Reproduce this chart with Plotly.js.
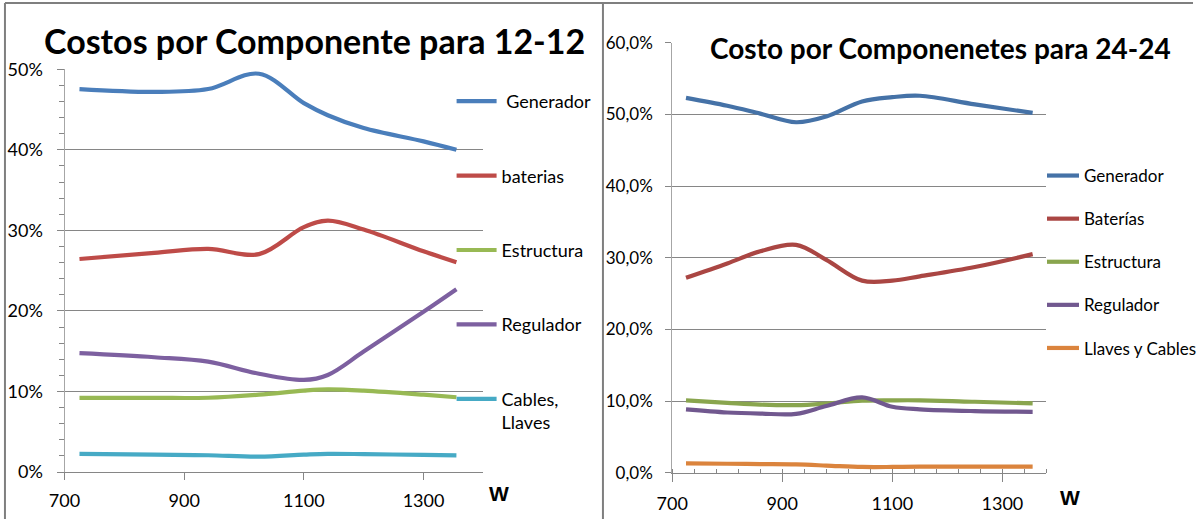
<!DOCTYPE html>
<html>
<head>
<meta charset="utf-8">
<script src="https://cdn.plot.ly/plotly-3.0.1.min.js"></script>
<style>html,body{margin:0;padding:0;background:#fff;}#chart{width:1202px;height:519px;}</style>
</head>
<body>
<div id="chart"></div>
<script>
// ---- Chart 1: Costos por Componente para 12-12 ----
const watts12 = [725, 850, 940, 1025, 1100, 1140, 1200, 1300, 1355];
const generador12 = [0.4755, 0.472, 0.4755, 0.4945, 0.458, 0.443, 0.427, 0.4105, 0.400];
const baterias12 = [0.2645, 0.272, 0.277, 0.2705, 0.304, 0.312, 0.301, 0.274, 0.2605];
const estructura12 = [0.092, 0.092, 0.0922, 0.096, 0.101, 0.1025, 0.101, 0.096, 0.0928];
const regulador12 = [0.1475, 0.1425, 0.137, 0.122, 0.1143, 0.1205, 0.1495, 0.199, 0.227];
const cables12 = [0.0225, 0.0215, 0.0208, 0.019, 0.0215, 0.0225, 0.0222, 0.0212, 0.0207];
const names12 = ["\u00a0Generador", "baterias", "Estructura", "Regulador", "Cables,<br>Llaves"];
const colors12 = ["#4A7EBB", "#BE4B48", "#98B954", "#7D60A0", "#46AAC5"];

// ---- Chart 2: Costo por Componenetes para 24-24 ----
const watts24 = [725, 800, 860, 925, 980, 1045, 1100, 1150, 1250, 1355];
const generador24 = [0.523, 0.512, 0.501, 0.489, 0.497, 0.518, 0.524, 0.526, 0.514, 0.502];
const baterias24 = [0.272, 0.292, 0.309, 0.318, 0.297, 0.268, 0.268, 0.274, 0.287, 0.305];
const estructura24 = [0.101, 0.0975, 0.095, 0.0943, 0.0965, 0.1005, 0.101, 0.101, 0.099, 0.0967];
const regulador24 = [0.0883, 0.084, 0.0825, 0.082, 0.093, 0.105, 0.092, 0.0885, 0.086, 0.085];
const llaves24 = [0.013, 0.0125, 0.012, 0.0115, 0.010, 0.008, 0.008, 0.0085, 0.0085, 0.0084];
const names24 = ["Generador", "Baterías", "Estructura", "Regulador", "Llaves y Cables"];
const colors24 = ["#4572A7", "#AA4643", "#89A54E", "#71588F", "#DB843D"];

const FONT1 = "Lato, 'Open Sans', sans-serif";
const FONT2 = "Lato, 'Open Sans', sans-serif";

const series12 = [generador12, baterias12, estructura12, regulador12, cables12];
const series24 = [generador24, baterias24, estructura24, regulador24, llaves24];

const traces = [];
series12.forEach((ys, i) => traces.push({
  type: "scatter", mode: "lines", x: watts12, y: ys, name: names12[i],
  line: {color: colors12[i], width: 4.2, shape: "spline", smoothing: 1},
  xaxis: "x", yaxis: "y", legend: "legend", legendgroup: "a" + i, hoverinfo: "skip"
}));
series24.forEach((ys, i) => traces.push({
  type: "scatter", mode: "lines", x: watts24, y: ys, name: names24[i],
  line: {color: colors24[i], width: 4.2, shape: "spline", smoothing: 1},
  xaxis: "x2", yaxis: "y2", legend: "legend2", legendgroup: "b" + i, hoverinfo: "skip"
}));

const W = 1202, H = 519;
const px = v => v / W;
const py = v => (H - v) / H;
const GRID = "#868686";

const layout = {
  width: W, height: H,
  margin: {l: 0, r: 0, t: 0, b: 0},
  paper_bgcolor: "#fff", plot_bgcolor: "rgba(0,0,0,0)",
  separators: ",.",
  showlegend: true,
  hovermode: false,
  xaxis: {
    domain: [px(65), px(487)], range: [700, 1400], anchor: "y",
    tick0: 700, dtick: 200, ticks: "outside", ticklen: 7, tickcolor: GRID,
    showline: true, linecolor: GRID, linewidth: 1, showgrid: false, zeroline: false,
    tickfont: {family: FONT1, size: 18, color: "#000"}, ticklabelstandoff: 5
  },
  yaxis: {
    domain: [py(472), py(69.3)], range: [0, 0.5], anchor: "x",
    dtick: 0.1, tickformat: ".0%", ticks: "outside", ticklen: 7, tickcolor: GRID,
    minor: {dtick: 0.02, ticks: "outside", ticklen: 5, tickcolor: GRID, showgrid: false},
    showline: true, linecolor: "#A6A6A6", linewidth: 1,
    showgrid: true, gridcolor: GRID, gridwidth: 1, zeroline: false,
    tickfont: {family: FONT1, size: 18, color: "#000"}, ticklabelstandoff: 10
  },
  xaxis2: {
    domain: [px(677.3), px(1054.3)], range: [700, 1380], anchor: "y2",
    tick0: 700, dtick: 200, ticks: "outside", ticklen: 8, tickcolor: GRID,
    minor: {tick0: 700, dtick: 40, ticks: "inside", ticklen: 4, tickcolor: GRID, showgrid: false},
    showline: true, linecolor: GRID, linewidth: 1, showgrid: false, zeroline: false,
    tickfont: {family: FONT2, size: 18, color: "#000"}, ticklabelstandoff: 7
  },
  yaxis2: {
    domain: [py(472.7), py(42.7)], range: [0, 0.6], anchor: "x2",
    dtick: 0.1, tickformat: ".1%", ticks: "outside", ticklen: 6, tickcolor: GRID,
    showline: true, linecolor: "#A6A6A6", linewidth: 1,
    showgrid: true, gridcolor: GRID, gridwidth: 1, zeroline: false,
    tickfont: {family: FONT2, size: 17, color: "#000"}, ticklabelstandoff: 9
  },
  legend: {
    x: px(455), y: py(83), xanchor: "left", yanchor: "top",
    font: {family: FONT1, size: 18, color: "#000"},
    tracegroupgap: 48, itemwidth: 40, valign: "top",
    bgcolor: "rgba(0,0,0,0)", borderwidth: 0
  },
  legend2: {
    x: px(1050), y: py(158), xanchor: "left", yanchor: "top",
    font: {family: FONT2, size: 17, color: "#000"},
    tracegroupgap: 18, itemwidth: 32, valign: "top",
    bgcolor: "rgba(0,0,0,0)", borderwidth: 0
  },
  annotations: [
    {text: "Costos por Componente para 12-12", xref: "paper", yref: "paper",
     x: px(317), y: py(40), xanchor: "center", yanchor: "middle", showarrow: false,
     font: {family: FONT1, size: 34, color: "#000", weight: 700}},
    {text: "Costo por Componenetes para 24-24", xref: "paper", yref: "paper",
     x: px(948), y: py(48), xanchor: "center", yanchor: "middle", showarrow: false,
     font: {family: FONT2, size: 28, color: "#000", weight: 700}},
    {text: "W", xref: "paper", yref: "paper", x: px(503), y: py(493),
     xanchor: "center", yanchor: "middle", showarrow: false,
     font: {family: "'Liberation Sans', Arial, sans-serif", size: 21, color: "#000", weight: 700}},
    {text: "W", xref: "paper", yref: "paper", x: px(1078), y: py(497),
     xanchor: "center", yanchor: "middle", showarrow: false,
     font: {family: "'Liberation Sans', Arial, sans-serif", size: 21, color: "#000", weight: 700}}
  ],
  shapes: [
    {type: "line", xref: "paper", yref: "paper", x0: px(5), x1: px(5), y0: 0, y1: py(3), line: {color: "#7F7F7F", width: 2}},
    {type: "line", xref: "paper", yref: "paper", x0: px(5), x1: 1, y0: py(3), y1: py(3), line: {color: "#7F7F7F", width: 2}},
    {type: "line", xref: "paper", yref: "paper", x0: px(607.5), x1: px(607.5), y0: 0, y1: py(3), line: {color: "#7F7F7F", width: 2}}
  ]
};

Plotly.newPlot("chart", traces, layout, {displayModeBar: false, staticPlot: true});
</script>
</body>
</html>
